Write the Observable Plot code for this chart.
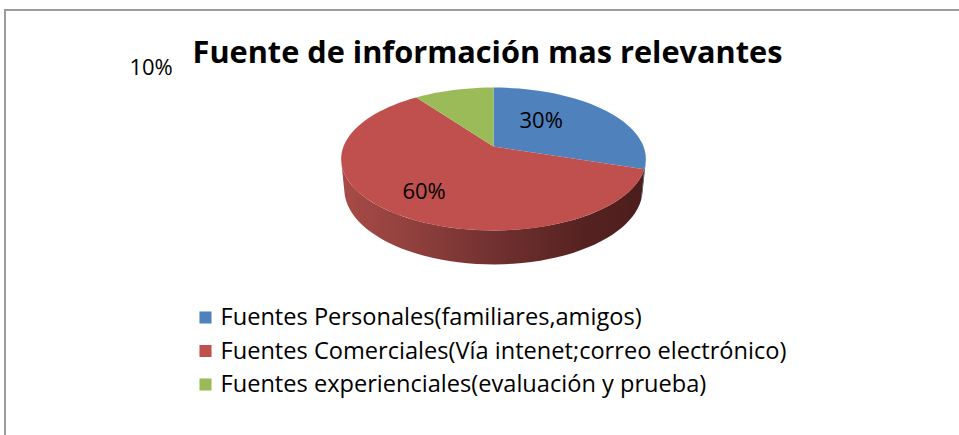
<!DOCTYPE html>
<html>
<head>
<meta charset="utf-8">
<script src="https://cdn.jsdelivr.net/npm/d3@7"></script>
<script src="https://cdn.jsdelivr.net/npm/@observablehq/plot@0.6"></script>
<style>
  html, body { margin: 0; padding: 0; background: #fff; overflow: hidden; }
  #wrap { position: relative; width: 959px; height: 435px; overflow: hidden; }
  #frame { position: absolute; left: 4px; top: 9px; width: 2000px; height: 1000px;
           border-top: 2px solid #9c9c9c; border-left: 2px solid #9c9c9c; box-sizing: border-box; }
  #chart { position: absolute; left: 0; top: 0; }
</style>
</head>
<body>
<div id="wrap"><div id="frame"></div><div id="chart"></div></div>
<script>
// ---- data ----
const title = "Fuente de información mas relevantes";
const categories = [
  "Fuentes Personales(familiares,amigos)",
  "Fuentes Comerciales(Vía intenet;correo electrónico)",
  "Fuentes experienciales(evaluación y prueba)"
];
const values = [30, 60, 10];
const labels = ["30%", "60%", "10%"];

// ---- style ----
const colors = ["#4f81bd", "#c0504d", "#9bbb59"];
const sideStops = [
  [["0", "#3d6594"], ["0.5", "#2e4d72"], ["1", "#223a57"]],
  [["0", "#a84b48"], ["0.2", "#94423f"], ["0.5", "#713130"], ["0.8", "#552221"], ["1", "#4c1d1c"]],
  [["0", "#7c9647"], ["0.5", "#5d7135"], ["1", "#465527"]]
];
const FONT = "'Open Sans', Lato, sans-serif";

// ---- 3D perspective pie geometry ----
const cx = 493, cy = 146;      // projected pie centre
const SX = 150;                 // horizontal radius
const alpha = 27.5 * Math.PI / 180; // elevation
const s = Math.sin(alpha), c = Math.cos(alpha);
const K = 0.175;                // perspective strength (R*cos(alpha)/D)
const R = K / c, f = SX / R;
const h = 0.0452;               // thickness

function proj(theta, rf, level) {
  const X = R * rf * Math.sin(theta);
  const Z = -R * rf * Math.cos(theta);
  const Y = -h * level;
  const depth = -Y * s + 1 - Z * c;
  const up = Y * c - Z * s;
  return {x: cx + f * X / depth, y: cy - f * up / depth};
}

const arcs = d3.pie().sort(null).value(d => d)(values);
const thMin = Math.acos(-R / c), thMax = 2 * Math.PI - thMin;
const N = 120;

const tops = [], sides = [];
arcs.forEach((a, i) => {
  const pts = [proj(0, 0, 0)];
  const n = Math.max(2, Math.ceil(N * (a.endAngle - a.startAngle) / (2 * Math.PI)));
  for (let k = 0; k <= n; k++) {
    const t = a.startAngle + (a.endAngle - a.startAngle) * k / n;
    pts.push(proj(t, 1, 0));
  }
  pts.forEach(p => tops.push({...p, i}));
  const a0 = Math.max(a.startAngle, thMin), a1 = Math.min(a.endAngle, thMax);
  if (a1 > a0) {
    const m = Math.max(2, Math.ceil(N * (a1 - a0) / (2 * Math.PI)));
    const up = [], dn = [];
    for (let k = 0; k <= m; k++) {
      const t = a0 + (a1 - a0) * k / m;
      up.push(proj(t, 1, 0));
      dn.push(proj(t, 1, 1));
    }
    up.concat(dn.reverse()).forEach(p => sides.push({...p, i}));
  }
});

// label anchors: projected mid-angle at half radius, plus Excel-style displacement
const labelShift = [[-10, -6], [-22, 15], [-321, -48]];
const labelData = arcs.map((a, i) => {
  const p = proj((a.startAngle + a.endAngle) / 2, 0.5, 0);
  return {x: p.x + labelShift[i][0], y: p.y + labelShift[i][1], text: labels[i]};
});

const legendData = categories.map((name, i) => ({name, i, x: 205, y: 317 + i * 33.5}));

const marks = [];
[1, 0, 2].forEach(i => {
  const d = sides.filter(p => p.i === i);
  if (d.length) marks.push(Plot.line(d, {x: "x", y: "y", fill: `url(#side${i})`, stroke: "none", curve: "linear-closed"}));
});
[0, 1, 2].forEach(i => {
  marks.push(Plot.line(tops.filter(p => p.i === i), {x: "x", y: "y", fill: colors[i], stroke: "none", curve: "linear-closed"}));
});
marks.push(Plot.text(labelData, {x: "x", y: "y", text: "text", fontSize: 22, fill: "#000", fontFamily: FONT}));
marks.push(Plot.text([title], {x: () => 487, y: () => 53, text: d => d, fontSize: 30.7, fontWeight: "bold", fill: "#000", fontFamily: FONT}));
marks.push(Plot.dot(legendData, {x: "x", y: "y", symbol: "square", r: 6.8, fill: d => colors[d.i], stroke: "none"}));
marks.push(Plot.text(legendData, {x: d => d.x + 15, y: "y", text: "name", textAnchor: "start", fontSize: 23.6, fill: "#000", fontFamily: FONT}));

const svg = Plot.plot({
  width: 959, height: 435,
  margin: 0,
  x: {domain: [0, 959], range: [0, 959], axis: null},
  y: {domain: [0, 435], range: [0, 435], axis: null},
  style: {background: "transparent", overflow: "visible"},
  marks
});

// gradients for the pie's side wall
const defs = d3.select(svg).insert("defs", ":first-child");
sideStops.forEach((stops, i) => {
  const g = defs.append("linearGradient").attr("id", `side${i}`)
    .attr("gradientUnits", "userSpaceOnUse")
    .attr("x1", cx - SX - 4).attr("x2", cx + SX + 4).attr("y1", 0).attr("y2", 0);
  stops.forEach(([o, col]) => g.append("stop").attr("offset", o).attr("stop-color", col));
});

document.getElementById("chart").appendChild(svg);
</script>
</body>
</html>
